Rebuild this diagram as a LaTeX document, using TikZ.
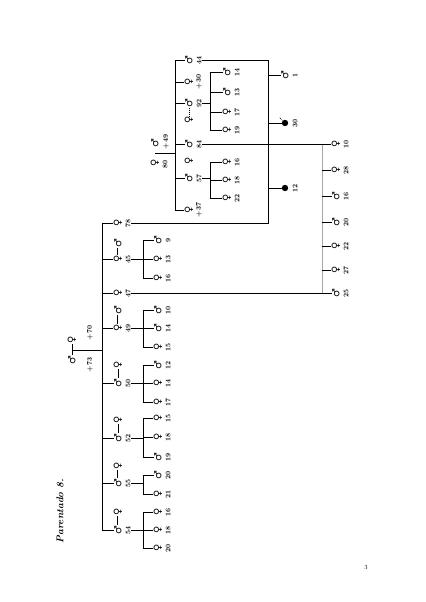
\documentclass[tikz,border=0pt]{standalone}
\usepackage{fontspec}
\newfontfamily\symfont{DejaVu Sans}
\usetikzlibrary{calc, positioning, arrows.meta}
\tikzstyle{line} = [draw, line width=0.6pt]
\tikzstyle{wed} = [draw, double, double distance=1.2pt, line width=0.4pt]
\tikzstyle{sym} = [inner sep=0.3pt, font=\symfont\fontsize{14}{14}\selectfont]
\tikzstyle{num} = [inner sep=0.5pt, font=\bfseries\fontsize{10}{10}\selectfont]
\tikzstyle{dead} = [circle, fill, inner sep=0pt, minimum size=3.2mm]
\newcommand{\ma}{\rotatebox{90}{♂}}
\newcommand{\fe}{\rotatebox{90}{♀}}
\newcommand{\up}[1]{\rotatebox{90}{#1}}

\begin{document}
\begin{tikzpicture}[x=0.5mm,y=-0.5mm]
\useasboundingbox (0,0) rectangle (426,602);

% Title and page number
\node[font=\bfseries\itshape\fontsize{14}{14}\selectfont] (title) at (60,511) {\up{Parentado 8.}};
\node[font=\fontsize{9}{9}\selectfont] (page) at (366,567) {3};

% Put in persons: name/x/y/sign/number
\foreach \n/\x/\y/\s/\t in {
  c78/118/223/\fe/78, c45/118/259/\fe/45, c47/118/293/\fe/47, c49/118/328/\fe/49,
  c50/118/383/\ma/50, c52/118/438/\ma/52, c55/118/483/\ma/55, c54/118/530/\ma/54,
  g45a/158/240/\ma/9, g45b/158/259/\fe/13, g45c/158/278/\fe/16,
  g49a/158/310/\ma/10, g49b/158/328/\ma/14, g49c/158/347/\fe/15,
  g50a/158/365/\ma/12, g50b/158/383/\fe/14, g50c/158/402/\fe/17,
  g52a/158/418/\fe/15, g52b/158/437/\fe/18, g52c/158/457/\ma/19,
  g55a/158/475/\ma/20, g55b/158/494/\fe/21,
  g54a/158/512/\fe/16, g54b/158/530/\fe/18, g54c/158/548/\fe/20,
  c44/189/60/\ma/44, c30/189/82/\fe/+30, c92/189/103/\ma/92, c84/189/144/\ma/84,
  c57/189/178/\ma/57, c37/189/210/\fe/+37,
  g92a/227/72/\ma/14, g92b/227/92/\ma/13, g92c/227/112/\fe/17, g92d/227/130/\fe/19,
  g57a/227/162/\fe/16, g57b/227/180/\fe/18, g57c/227/198/\fe/22,
  g44a/285/75/\ma/1,
  g84a/336/144/\fe/10, g84b/336/170/\fe/28, g84c/336/196/\ma/16, g84d/336/222/\ma/20,
  g84e/336/246/\fe/22, g84f/336/270/\fe/27, g84g/336/293/\ma/25}
{
  \node[sym] (\n) at (\x,\y) {\s};
  \node[num] (t\n) at (\x+10,\y) {\up{\t}};
}

% Put in spouses
\foreach \n/\x/\y/\s in {w45/118/243/\ma, w49/118/310/\ma, w50/118/365/\fe, w52/118/420/\fe,
                         w55/118/466/\fe, w54/118/512/\fe, w92/189/120/\fe, w57/189/161/\fe}
  \node[sym] (\n) at (\x,\y) {\s};

% Parents
\node[sym] (p73) at (72,360) {\ma};
\node[sym] (p70) at (72,340) {\fe};
\node[num] (t73) at (90,365) {\up{+73}};
\node[num] (t70) at (90,333) {\up{+70}};
\node[sym] (p49) at (155,143) {\ma};
\node[sym] (p80) at (155,163) {\fe};
\node[num] (t49) at (166,142) {\up{+49}};
\node[num] (t80) at (165,164) {\up{80}};

% Children that died
\node[dead] (g44b) at (285,123) {};
\node[num] (tg44b) at (295,123) {\up{30}};
\draw[-{Stealth[length=2pt]}] (g44b.north west) -- ++(-3,-3);
\node[dead] (g44c) at (285,188) {};
\node[num] (tg44c) at (295,188) {\up{12}};

% Bracket lines
\coordinate (main) at (102,0);
\coordinate (gen) at (143,0);
\coordinate (rf) at (175,0);
\coordinate (gen2) at (210,0);
\coordinate (mid) at (268,0);
\coordinate (rc) at (322,0);

% Draw main family
\coordinate (top) at ($(p73)!0.5!(p70)$);
\draw[line] (p73.north) -- (p70.south);
\draw[line] (top) -- (main |- top);
\draw[line] (main |- c78) -- (main |- c54);
\foreach \c in {c78,c45,c47,c49,c50,c52,c55,c54}
   \draw[line] (main |- \c) -- (\c.west);

% Draw marriages
\foreach \w/\c in {w45/c45, w49/c49, w55/c55, w54/c54}
   \draw[wed] (\w.south) -- (\c.north);
\foreach \w/\c in {w50/c50, w52/c52}
   \draw[line] (\w.south) -- (\c.north);
\draw[dotted, thick] (c92.south) -- (w92.north);

% Draw grandchildren
\foreach \f/\a/\b in {c45/g45a/g45c, c49/g49a/g49c, c50/g50a/g50c,
                      c52/g52a/g52c, c55/g55a/g55b, c54/g54a/g54c} {
   \draw[line] (t\f.east) -- (gen |- t\f);
   \draw[line] (gen |- \a) -- (gen |- \b);
}
\foreach \g in {g45a,g45b,g45c,g49a,g49b,g49c,g50a,g50b,g50c,
                g52a,g52b,g52c,g55a,g55b,g54a,g54b,g54c}
   \draw[line] (gen |- \g) -- (\g.west);

% Draw right family
\coordinate (pc) at ($(p49)!0.5!(p80)$);
\draw[line] (pc) -- (rf |- pc);
\draw[line] (rf |- c44) -- (rf |- c37);
\foreach \c in {c44,c30,c92,c84,c57,c37}
   \draw[line] (rf |- \c) -- (\c.west);
\foreach \f/\a/\b in {c92/g92a/g92d, c57/g57a/g57c} {
   \draw[line] (t\f.east) -- (gen2 |- t\f);
   \draw[line] (gen2 |- \a) -- (gen2 |- \b);
}
\foreach \g in {g92a,g92b,g92c,g92d,g57a,g57b,g57c}
   \draw[line] (gen2 |- \g) -- (\g.west);

% 44 and 78
\draw[line] (tc44.east) -- (mid |- tc44) -- (mid |- tc78) -- (tc78.east);
\foreach \g in {g44a,g44b,g44c}
   \draw[line] (mid |- \g) -- (\g.west);

% 84 and 47
\draw[line] (tc84.east) -- (rc |- tc84);
\draw[line] (tc47.east) -- (rc |- tc47);
\draw[line width=1.4pt, gray!70] (rc |- tc84) -- (rc |- tc47);
\foreach \g in {g84a,g84b,g84c,g84d,g84e,g84f,g84g}
   \draw[line] (rc |- \g) -- (\g.west);

\end{tikzpicture}
\end{document}
